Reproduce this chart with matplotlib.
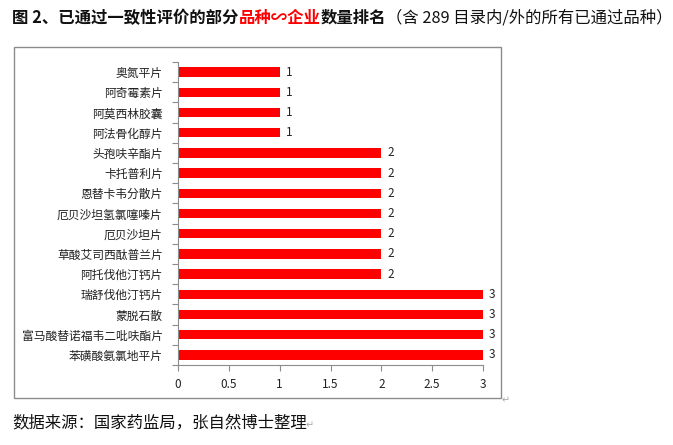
import matplotlib
matplotlib.use('Agg')
import matplotlib.pyplot as plt
from matplotlib.patches import Rectangle

plt.rcParams['font.family'] = ['Noto Sans CJK SC', 'DejaVu Sans']

# Daten (von oben nach unten wie im Bild)
drugs = ['奥氮平片', '阿奇霉素片', '阿莫西林胶囊', '阿法骨化醇片', '头孢呋辛酯片',
         '卡托普利片', '恩替卡韦分散片', '厄贝沙坦氢氯噻嗪片', '厄贝沙坦片',
         '草酸艾司西酞普兰片', '阿托伐他汀钙片', '瑞舒伐他汀钙片', '蒙脱石散',
         '富马酸替诺福韦二吡呋酯片', '苯磺酸氨氯地平片']
counts = [1, 1, 1, 1, 2, 2, 2, 2, 2, 2, 2, 3, 3, 3, 3]
xticks = [0, 0.5, 1, 1.5, 2, 2.5, 3]
xticklabels = ['0', '0.5', '1', '1.5', '2', '2.5', '3']

W, H = 673, 445
fig = plt.figure(figsize=(W / 100, H / 100), dpi=100)

# Rahmen um das Diagramm
fig.patches.append(Rectangle((14 / W, 1 - 398 / H), (501 - 14) / W, (398 - 47) / H,
                             transform=fig.transFigure, fill=False,
                             edgecolor='#8c8c8c', linewidth=1.0))

ax = fig.add_axes([178 / W, 1 - 365 / H, (483 - 178) / W, (365 - 62) / H])
pos = list(range(len(drugs)))
ax.barh(pos, counts, height=0.47, color='#ff0000')
ax.set_xlim(0, 3)
ax.set_ylim(len(drugs) - 0.5, -0.5)

for p, v in zip(pos, counts):
    ax.text(v + 0.06, p, str(v), va='center', ha='left', fontsize=8.5, color='#222222')

ax.set_yticks(pos)
ax.set_yticklabels(drugs, fontsize=8.5, color='#222222')
ax.set_yticks([p + 0.5 for p in range(-1, len(drugs))], minor=True)
ax.tick_params(axis='y', which='major', length=0, pad=11)
ax.tick_params(axis='y', which='minor', length=4, color='#8c8c8c', width=0.8)
ax.set_xticks(xticks)
ax.set_xticklabels(xticklabels, fontsize=8.5, color='#222222')
ax.tick_params(axis='x', length=4, color='#8c8c8c', width=0.8, pad=5)

for s in ['top', 'right']:
    ax.spines[s].set_visible(False)
for s in ['left', 'bottom']:
    ax.spines[s].set_color('#8c8c8c')
    ax.spines[s].set_linewidth(0.8)

# Titel in mehreren Teilen
t1 = fig.text(12 / W, 1 - 18 / H, '图 2、已通过一致性评价的部分', fontsize=11.8,
              fontweight='bold', va='center', ha='left', color='#111111')
t2 = ax.annotate('品种∽企业', xy=(1, 0.5), xycoords=t1, fontsize=11.8, fontweight='bold',
                 va='center', ha='left', color='#ff0000', annotation_clip=False)
t3 = ax.annotate('数量排名', xy=(1, 0.5), xycoords=t2, fontsize=11.8, fontweight='bold',
                 va='center', ha='left', color='#111111', annotation_clip=False)
ax.annotate('（含 289 目录内/外的所有已通过品种）', xy=(1, 0.5), xycoords=t3, fontsize=11.8,
            va='center', ha='left', color='#111111', annotation_clip=False)

# Quelle
fig.text(12 / W, 1 - 423 / H, '数据来源：国家药监局，张自然博士整理', fontsize=11.8,
         va='center', ha='left', color='#111111')
fig.text(306 / W, 1 - 425 / H, '↵', fontsize=7, va='center', ha='left', color='#aaaaaa')
fig.text(502 / W, 1 - 400 / H, '↵', fontsize=7, va='center', ha='left', color='#aaaaaa')

fig.savefig('out.png', dpi=100)
